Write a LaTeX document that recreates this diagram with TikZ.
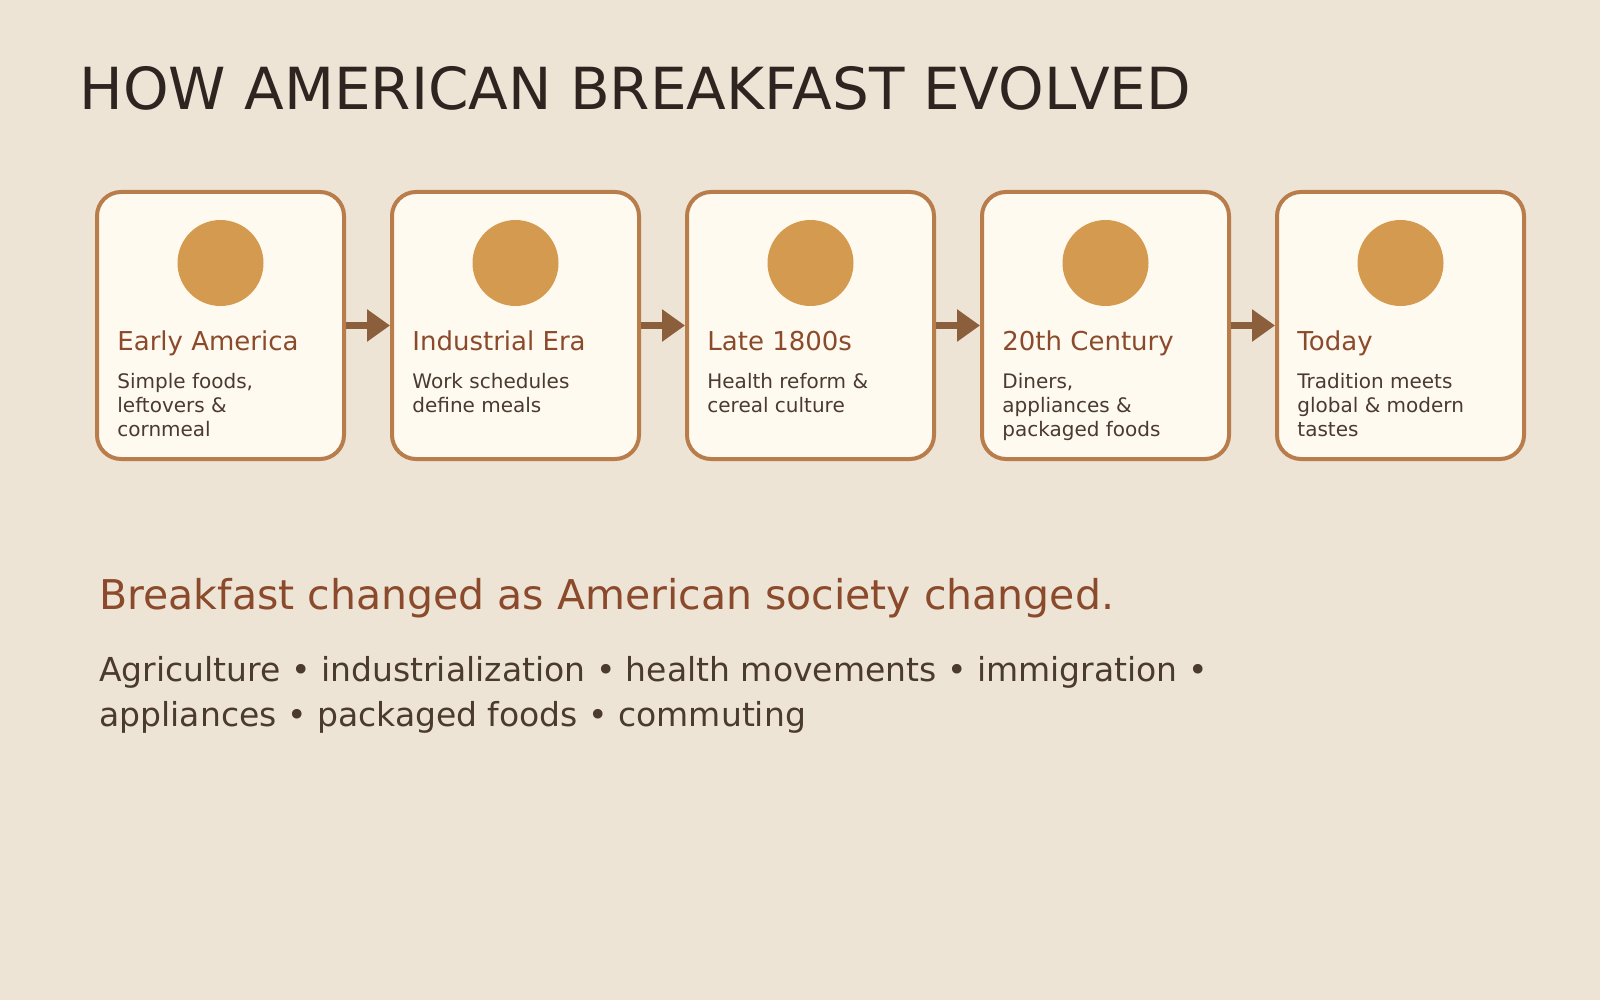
\documentclass[tikz,border=0pt]{standalone}
\usepackage{fontspec}
\setmainfont{DejaVu Sans}
\usetikzlibrary{arrows.meta, positioning}

\definecolor{paper}{HTML}{EDE4D6}
\definecolor{cardfill}{HTML}{FFFAF0}
\definecolor{cardline}{HTML}{B87D4B}
\definecolor{dotfill}{HTML}{D49A50}
\definecolor{flowline}{HTML}{8B5E3C}
\definecolor{headtext}{HTML}{8B4A2B}
\definecolor{bodytext}{HTML}{4A3A30}
\definecolor{titletext}{HTML}{2E2520}

\begin{document}
\begin{tikzpicture}[x=0.5pt, y=-0.5pt,
    card/.style={draw=cardline, fill=cardfill, line width=2pt, rounded corners=12pt,
      minimum width=123.5pt, minimum height=133.5pt, inner sep=0pt},
    dot/.style={circle, fill=dotfill, minimum size=43pt, inner sep=0pt},
    head/.style={anchor=base west, inner sep=0pt, text=headtext, font=\fontsize{13pt}{15pt}\selectfont},
    desc/.style={anchor=base west, inner sep=0pt, align=left, text=bodytext, font=\fontsize{10pt}{12pt}\selectfont},
    flow/.style={draw=flowline, line width=3.5pt, -{Triangle[length=11.5pt, width=15.5pt]}}]
    \useasboundingbox (0,0) rectangle (1600,1000);
    \fill[paper] (0,0) rectangle (1600,1000);

    % Title
    \node (title) [anchor=base west, inner sep=0pt, text=titletext, font=\fontsize{29pt}{34pt}\selectfont] at (79,110) {HOW AMERICAN BREAKFAST EVOLVED};

    % Nodes
    \node (early) [card] at (220.5,325.5) {};
    \node (industrial) [card] at (515.5,325.5) {};
    \node (late) [card] at (810.5,325.5) {};
    \node (century) [card] at (1105.5,325.5) {};
    \node (today) [card] at (1400.5,325.5) {};

    \node (earlydot) [dot] at (220.5,263) {};
    \node (industrialdot) [dot] at (515.5,263) {};
    \node (latedot) [dot] at (810.5,263) {};
    \node (centurydot) [dot] at (1105.5,263) {};
    \node (todaydot) [dot] at (1400.5,263) {};

    \node (earlyhead) [head] at (117,350) {Early America};
    \node (industrialhead) [head] at (412,350) {Industrial Era};
    \node (latehead) [head] at (707,350) {Late 1800s};
    \node (centuryhead) [head] at (1002,350) {20th Century};
    \node (todayhead) [head] at (1297,350) {Today};

    % descriptions: base is the last line
    \node (earlytext) [desc] at (117,436) {Simple foods,\\leftovers \&\\cornmeal};
    \node (industrialtext) [desc] at (412,412) {Work schedules\\define meals};
    \node (latetext) [desc] at (707,412) {Health reform \&\\cereal culture};
    \node (centurytext) [desc] at (1002,436) {Diners,\\appliances \&\\packaged foods};
    \node (todaytext) [desc] at (1297,436) {Tradition meets\\global \& modern\\tastes};

    % Arrows
    \draw[flow] (early) -- (industrial);
    \draw[flow] (industrial) -- (late);
    \draw[flow] (late) -- (century);
    \draw[flow] (century) -- (today);

    % Summary
    \node (summary) [anchor=base west, inner sep=0pt, text=headtext, font=\fontsize{20.5pt}{24pt}\selectfont] at (99,609) {Breakfast changed as American society changed.};
    \node (forces) [anchor=base west, inner sep=0pt, align=left, text=bodytext, font=\fontsize{16.5pt}{22.5pt}\selectfont] at (99,726) {Agriculture • industrialization • health movements • immigration •\\appliances • packaged foods • commuting};
\end{tikzpicture}
\end{document}
